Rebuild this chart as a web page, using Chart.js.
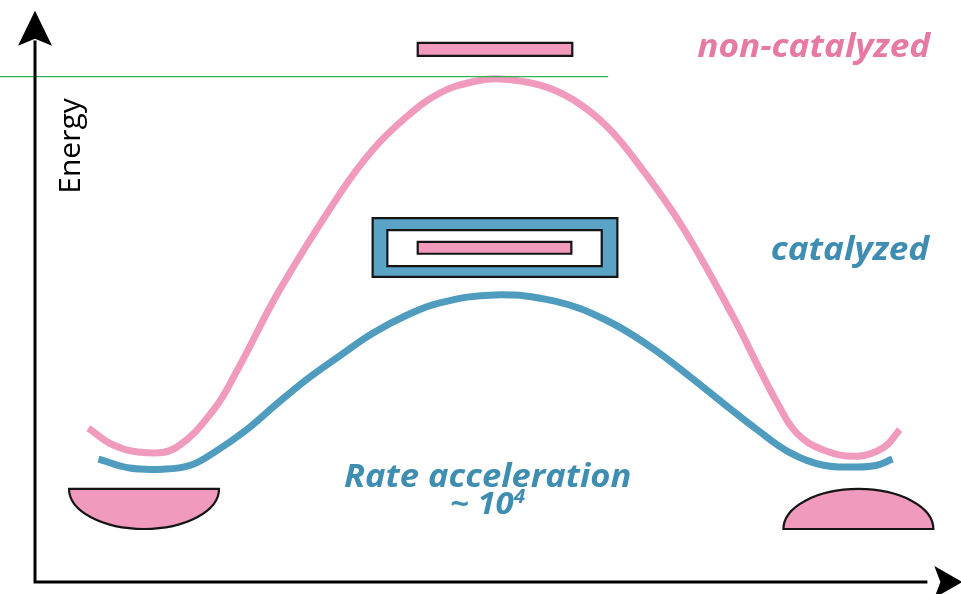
<!DOCTYPE html>
<html lang="en">
<head>
    <meta charset="UTF-8">
    <title>Energy diagram - catalyzed vs non-catalyzed</title>
    <script src="https://cdn.jsdelivr.net/npm/chart.js@4.4.0/dist/chart.umd.min.js"></script>
    <style>
        body {
            margin: 0;
            background: #fff;
        }
        .wrap {
            width: 961px;
            height: 594px;
        }
    </style>
</head>
<body>
    <div class="wrap">
        <canvas id="chrt" aria-label="chart" role="img"></canvas>
    </div>

    <script>
        // reaction coordinate (0-100) and energy (0-100)
        const pinkX = [5.8, 8.5, 12.2, 15.4, 19.4, 22.0, 26.6, 33.2, 36.7, 40.4, 44.0, 47.6, 50.5,
            54.9, 58.5, 62.2, 65.8, 70.4, 75.9, 78.8, 80.7, 82.8, 85.7, 89.4, 92.2, 94.0]
        const pinkY = [27.3, 24.3, 22.9, 23.9, 30.5, 37.6, 51.8, 69.0, 76.6, 82.5, 86.7, 88.7, 89.2,
            88.1, 85.5, 80.7, 73.6, 62.9, 47.0, 37.6, 31.7, 26.4, 23.4, 22.3, 23.8, 27.0]

        const blueX = [6.9, 10.3, 13.9, 16.9, 19.4, 23.0, 26.3, 29.6, 33.2, 36.7, 40.4, 44.0, 50.0,
            56.5, 62.0, 66.9, 71.2, 74.8, 78.5, 82.1, 85.7, 89.4, 91.5, 93.2]
        const blueY = [21.8, 20.2, 20.0, 20.7, 22.9, 27.0, 31.6, 36.0, 40.2, 44.1, 47.3, 49.5, 50.9,
            49.8, 46.5, 41.7, 36.4, 31.7, 27.0, 22.9, 20.7, 20.4, 20.7, 21.8]

        const seriesNames = ['non-catalyzed', 'catalyzed']
        const noteLines = ['Rate acceleration', '~ 10', '4']
        const axisTitle = 'Energy'

        const pink = '#f09bbe'
        const pinkText = '#e67aa4'
        const blue = '#4f9cbf'
        const blueBox = '#5ba3c6'
        const blueText = '#3f8db1'

        const toPoints = (xs, ys) => xs.map((x, i) => ({ x: x, y: ys[i] }))

        // boxes, substrate / product shapes, arrows and labels
        const drawing = {
            id: 'drawing',
            afterDatasetsDraw(chart) {
                const ctx = chart.ctx
                const sx = chart.scales.x
                const sy = chart.scales.y
                const px = v => sx.getPixelForValue(v)
                const py = v => sy.getPixelForValue(v)

                ctx.save()

                const rect = (x1, y1, x2, y2, fill) => {
                    ctx.beginPath()
                    ctx.rect(px(x1), py(y1), px(x2) - px(x1), py(y2) - py(y1))
                    ctx.fillStyle = fill
                    ctx.fill()
                    ctx.lineWidth = 2.2
                    ctx.strokeStyle = '#151515'
                    ctx.stroke()
                }

                // transition states
                rect(41.6, 95.6, 58.4, 93.3, pink)
                rect(36.7, 64.5, 63.3, 54.1, blueBox)
                rect(38.3, 62.4, 61.6, 56.0, '#fff')
                rect(41.6, 60.3, 58.3, 58.2, pink)

                // substrate bowl and product dome
                const halfEllipse = (cx, cy, rx, ry, down) => {
                    ctx.beginPath()
                    const x = px(cx), y = py(cy)
                    const rxp = px(cx + rx) - x
                    const ryp = Math.abs(py(cy + ry) - y)
                    ctx.ellipse(x, y, rxp, ryp, 0, down ? 0 : Math.PI, down ? Math.PI : 2 * Math.PI)
                    ctx.closePath()
                    ctx.fillStyle = pink
                    ctx.fill()
                    ctx.lineWidth = 2.2
                    ctx.strokeStyle = '#151515'
                    ctx.stroke()
                }
                halfEllipse(11.85, 16.5, 8.15, 7.1, true)
                halfEllipse(89.5, 9.4, 8.15, 7.1, false)

                // green guide line
                ctx.beginPath()
                ctx.moveTo(px(-3.8), py(89.6))
                ctx.lineTo(px(62.3), py(89.6))
                ctx.lineWidth = 1.3
                ctx.strokeStyle = '#2fb35c'
                ctx.stroke()

                // axes with arrow heads
                ctx.strokeStyle = '#000'
                ctx.fillStyle = '#000'
                ctx.lineWidth = 3
                ctx.beginPath()
                ctx.moveTo(px(0), py(96))
                ctx.lineTo(px(0), py(0))
                ctx.lineTo(px(97), py(0))
                ctx.stroke()

                ctx.beginPath()
                ctx.moveTo(px(0), py(101.3))
                ctx.lineTo(px(0) - 17, py(101.3) + 35)
                ctx.lineTo(px(0), py(101.3) + 28)
                ctx.lineTo(px(0) + 17, py(101.3) + 35)
                ctx.closePath()
                ctx.fill()

                ctx.beginPath()
                ctx.moveTo(px(100.8), py(0))
                ctx.lineTo(px(100.8) - 28, py(0) - 16)
                ctx.lineTo(px(100.8) - 22, py(0))
                ctx.lineTo(px(100.8) - 28, py(0) + 16)
                ctx.closePath()
                ctx.fill()

                // axis title
                ctx.save()
                ctx.translate(px(4.9), py(77.3))
                ctx.rotate(-Math.PI / 2)
                ctx.font = '30px "Open Sans"'
                ctx.fillStyle = '#000'
                ctx.textAlign = 'center'
                ctx.textBaseline = 'alphabetic'
                ctx.fillText(axisTitle, 0, 0)
                ctx.restore()

                // text slightly wider than Open Sans, like the original face
                const label = (text, x, y, font, align, stretch) => {
                    ctx.save()
                    ctx.translate(x, y)
                    ctx.scale(stretch, 1)
                    ctx.font = font
                    ctx.textAlign = align
                    ctx.textBaseline = 'alphabetic'
                    ctx.fillText(text, 0, 0)
                    ctx.restore()
                }
                const bigFont = 'italic bold 32px "Open Sans"'
                ctx.fillStyle = pinkText
                label(seriesNames[0], px(97.3), py(93.1), bigFont, 'right', 1.1)
                ctx.fillStyle = blueText
                label(seriesNames[1], px(97.2), py(57.1), bigFont, 'right', 1.1)

                // rate note
                label(noteLines[0], px(49.2), py(16.8), bigFont, 'center', 1.08)
                const numFont = 'italic bold 30px "Open Sans"'
                const supFont = 'italic bold 19px "Open Sans"'
                ctx.font = numFont
                const w1 = ctx.measureText(noteLines[1]).width * 1.1
                ctx.font = supFont
                const w2 = ctx.measureText(noteLines[2]).width * 1.1
                const left = px(49.2) - (w1 + w2) / 2
                label(noteLines[1], left, py(12.0), numFont, 'left', 1.1)
                label(noteLines[2], left + w1, py(12.0) - 11, supFont, 'left', 1.1)

                ctx.restore()
            }
        }

        let chrt = document.getElementById('chrt').getContext('2d')

        let myChart = new Chart(chrt, {
            type: 'scatter',
            data: {
                datasets: [
                    {
                        label: seriesNames[0],
                        data: toPoints(pinkX, pinkY),
                        showLine: true,
                        borderColor: pink,
                        borderWidth: 7,
                        pointRadius: 0,
                        tension: 0.4,
                        borderCapStyle: 'butt'
                    },
                    {
                        label: seriesNames[1],
                        data: toPoints(blueX, blueY),
                        showLine: true,
                        borderColor: blue,
                        borderWidth: 7,
                        pointRadius: 0,
                        tension: 0.4,
                        borderCapStyle: 'butt'
                    }
                ]
            },
            options: {
                responsive: true,
                maintainAspectRatio: false,
                animation: false,
                layout: { padding: 0 },
                plugins: {
                    legend: { display: false },
                    tooltip: { enabled: false }
                },
                scales: {
                    x: { type: 'linear', min: -3.804, max: 100.652, display: false },
                    y: { type: 'linear', min: -2.128, max: 103.19, display: false }
                }
            },
            plugins: [drawing]
        })
    </script>
</body>
</html>
